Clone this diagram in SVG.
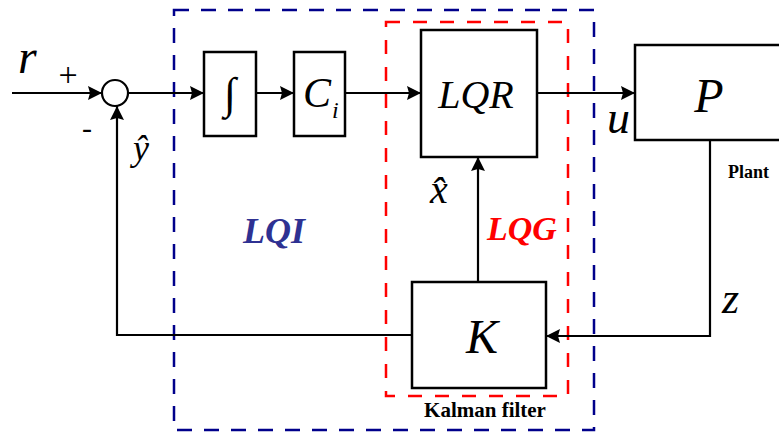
<svg xmlns="http://www.w3.org/2000/svg" width="779" height="435" viewBox="0 0 779 435">
<style>
.box{fill:#fff;stroke:#000;stroke-width:2.5}
.ln{fill:none;stroke:#000;stroke-width:2.2}
text{font-family:'Liberation Serif','Times New Roman',serif}
.m{font-style:italic;fill:#000}
.rm{fill:#000}
.b{font-weight:bold;fill:#000}
</style>
<defs>
<marker id="ar" viewBox="0 0 14 14" refX="14" refY="7" markerWidth="14" markerHeight="14" markerUnits="userSpaceOnUse" orient="auto">
<path d="M0,0 L14,7 L0,14 L2,7 Z" fill="#000"/>
</marker>
</defs>
<rect x="174" y="10" width="420" height="420" fill="none" stroke="#00008B" stroke-width="2.5" stroke-dasharray="15 12"/>
<rect x="386" y="22" width="182" height="374" fill="none" stroke="#FF0000" stroke-width="2.5" stroke-dasharray="14 13"/>
<g id="connectors">
<line class="ln" x1="12" y1="93" x2="102" y2="93" marker-end="url(#ar)"/>
<line class="ln" x1="128" y1="93" x2="204" y2="93" marker-end="url(#ar)"/>
<line class="ln" x1="256" y1="93" x2="294" y2="93" marker-end="url(#ar)"/>
<line class="ln" x1="345" y1="93" x2="421" y2="93" marker-end="url(#ar)"/>
<line class="ln" x1="537" y1="93" x2="635" y2="93" marker-end="url(#ar)"/>
<polyline class="ln" points="710,140 710,336 546,336" marker-end="url(#ar)"/>
<line class="ln" x1="478" y1="282" x2="478" y2="157" marker-end="url(#ar)"/>
<polyline class="ln" points="412,335 117,335 117,106" marker-end="url(#ar)"/>
</g>
<g id="sum">
<circle cx="115" cy="93" r="13" fill="#fff" stroke="#000" stroke-width="2.2"/>
<text x="68" y="86" font-family="'Liberation Sans',sans-serif" font-size="34" text-anchor="middle">+</text>
<text x="87" y="138" font-family="'Liberation Sans',sans-serif" font-size="30" text-anchor="middle">-</text>
</g>
<g id="integrator">
<rect class="box" x="204" y="52" width="52" height="84"/>
<text class="rm" x="230" y="108" font-size="44" text-anchor="middle">∫</text>
</g>
<g id="ci">
<rect class="box" x="294" y="52" width="51" height="84"/>
<text class="m" x="303" y="107" font-size="42">C</text>
<text class="m" x="332" y="118" font-size="24">i</text>
</g>
<g id="lqr">
<rect class="box" x="421" y="30" width="116" height="127"/>
<text class="m" x="476" y="108" font-size="40" text-anchor="middle">LQR</text>
</g>
<g id="plant">
<rect class="box" x="635" y="45" width="150" height="95"/>
<text class="m" x="709" y="112" font-size="48" text-anchor="middle">P</text>
<text class="b" x="728" y="178" font-size="18">Plant</text>
</g>
<g id="kalman">
<rect class="box" x="412" y="282" width="134" height="106"/>
<text class="m" x="482" y="353" font-size="48" text-anchor="middle">K</text>
<text class="b" x="485" y="417" font-size="21" text-anchor="middle">Kalman filter</text>
</g>
<g id="labels">
<text class="m" x="18" y="73" font-size="48">r</text>
<text class="m" x="133" y="160" font-size="36">ŷ</text>
<text class="m" x="607" y="133" font-size="46">u</text>
<text class="m" x="430" y="203" font-size="40">x̂</text>
<text class="m" x="722" y="313" font-size="44">z</text>
<text x="274" y="243" font-weight="bold" font-style="italic" font-size="36" fill="#2E3192" text-anchor="middle">LQI</text>
<text x="522" y="240" font-weight="bold" font-style="italic" font-size="34" fill="#FF0000" text-anchor="middle">LQG</text>
</g>
</svg>
